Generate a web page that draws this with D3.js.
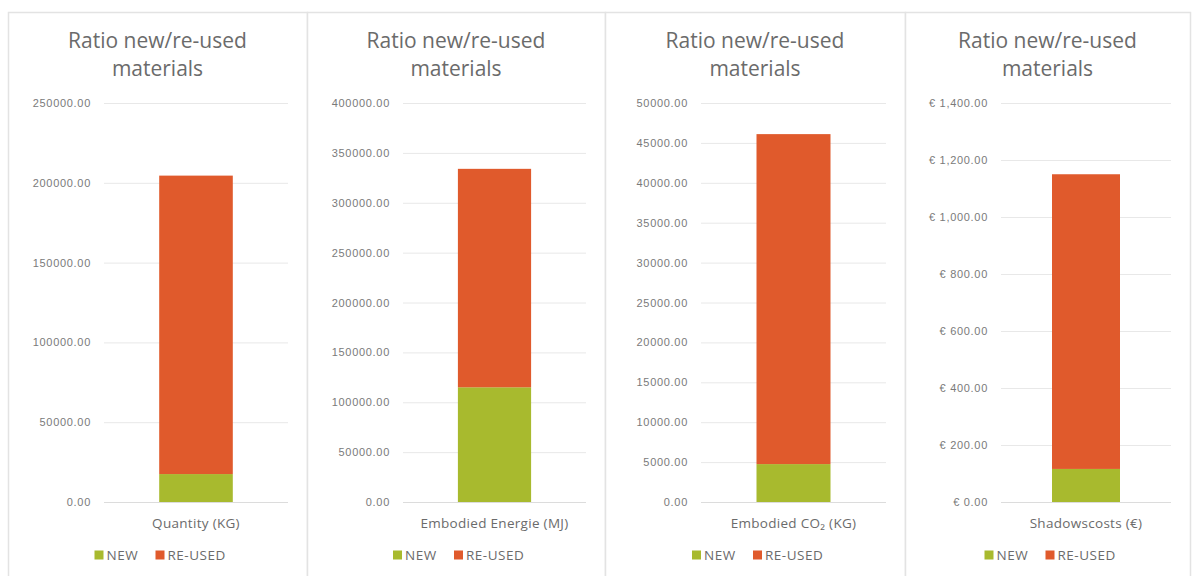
<!DOCTYPE html>
<html>
<head>
<meta charset="utf-8">
<script src="https://cdn.jsdelivr.net/npm/d3@7"></script>
<style>
  body { margin: 0; background: #fff; }
  svg { display: block; font-family: "Open Sans", Lato, sans-serif; }
</style>
</head>
<body>
<div id="chart"></div>
<script>
// data
const categories = ["Quantity (KG)", "Embodied Energie (MJ)", "Embodied CO\u2082 (KG)", "Shadowscosts (\u20ac)"];
const newValues = [17500, 115000, 4750, 116];
const reusedValues = [187000, 219000, 41350, 1034];
const yMaxValues = [250000, 400000, 50000, 1400];
const tickSteps = [50000, 50000, 5000, 200];
const seriesNames = ["NEW", "RE-USED"];
const colors = { "NEW": "#a8ba2e", "RE-USED": "#e05a2c" };

const W = 1193, H = 576;
const panelEdges = [8, 307, 605, 905, 1190];

const svg = d3.select("#chart")
    .append("svg")
    .attr("width", W)
    .attr("height", H);

const numFmt = d3.format(".2f");
const euroFmt = v => "\u20ac " + d3.format(",.2f")(v);

categories.forEach((cat, i) => {
    const x0 = panelEdges[i], x1 = panelEdges[i + 1];
    const panel = svg.append("g");

    // kader van het paneel
    panel.append("rect")
        .attr("x", x0 + 0.5)
        .attr("y", 12.5)
        .attr("width", x1 - x0)
        .attr("height", H)
        .attr("fill", "#fff")
        .attr("stroke", "#e3e3e3")
        .attr("stroke-width", 1.5);

    // titel
    const cx = (x0 + x1) / 2;
    panel.append("text")
        .attr("x", cx)
        .attr("y", 48)
        .attr("text-anchor", "middle")
        .style("font-size", "21px")
        .attr("fill", "#6b6b6b")
        .text("Ratio new/re-used");
    panel.append("text")
        .attr("x", cx)
        .attr("y", 76)
        .attr("text-anchor", "middle")
        .style("font-size", "21px")
        .attr("fill", "#6b6b6b")
        .text("materials");

    // plotgebied
    const left = x0 + 96, right = x1 - 19;
    const top = 103, bottom = 502;

    const y = d3.scaleLinear()
        .domain([0, yMaxValues[i]])
        .range([bottom, top]);

    const x = d3.scaleBand()
        .domain([cat])
        .range([left, right])
        .paddingInner(0.6)
        .paddingOuter(0.3);

    const ticks = d3.range(0, yMaxValues[i] + 1, tickSteps[i]);
    const fmt = i === 3 ? euroFmt : numFmt;

    const axis = panel.append("g")
        .attr("transform", `translate(${left},0)`)
        .call(d3.axisLeft(y).tickValues(ticks).tickFormat(fmt).tickSize(-(right - left)).tickPadding(13));
    axis.select(".domain").remove();
    axis.selectAll(".tick line").attr("stroke", "#e8e8e8");
    axis.selectAll(".tick text")
        .attr("fill", "#7a7a7a")
        .style("font-size", "11px")
        .style("letter-spacing", "0.7px");
    axis.select(".tick:first-of-type line").attr("stroke", "#dcdcdc");

    // gestapelde staven
    const stackData = [{ cat: cat, "NEW": newValues[i], "RE-USED": reusedValues[i] }];
    const stacked = d3.stack().keys(seriesNames)(stackData);

    panel.selectAll(".bar")
        .data(stacked)
        .enter()
        .append("rect")
        .attr("x", x(cat))
        .attr("width", x.bandwidth())
        .attr("y", d => y(d[0][1]))
        .attr("height", d => y(d[0][0]) - y(d[0][1]))
        .attr("fill", d => colors[d.key]);

    // categorielabel
    panel.append("text")
        .attr("x", x(cat) + x.bandwidth() / 2)
        .attr("y", 528)
        .attr("text-anchor", "middle")
        .style("font-size", "13.5px")
        .style("letter-spacing", "0.3px")
        .attr("fill", "#6b6b6b")
        .text(cat);

    // legenda
    const legend = panel.append("g")
        .attr("transform", `translate(${cx - 63},555)`);
    const lx = [0, 61];
    seriesNames.forEach((s, j) => {
        legend.append("rect")
            .attr("x", lx[j])
            .attr("y", -4.5)
            .attr("width", 9)
            .attr("height", 9)
            .attr("fill", colors[s]);
        legend.append("text")
            .attr("x", lx[j] + 12)
            .attr("y", 0)
            .attr("dy", "0.35em")
            .style("font-size", "13.5px")
            .style("letter-spacing", "0.5px")
            .attr("fill", "#6b6b6b")
            .text(s);
    });
});
</script>
</body>
</html>
